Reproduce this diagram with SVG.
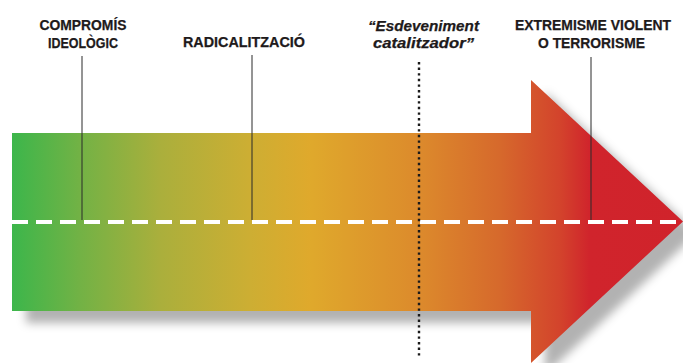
<svg xmlns="http://www.w3.org/2000/svg" width="683" height="363" viewBox="0 0 683 363">
  <defs>
    <linearGradient id="grad" gradientUnits="userSpaceOnUse" x1="12" y1="0" x2="683" y2="0">
      <stop offset="0" stop-color="#3cb64b"/>
      <stop offset="0.101" stop-color="#72b245"/>
      <stop offset="0.220" stop-color="#aaaf3c"/>
      <stop offset="0.355" stop-color="#cdae33"/>
      <stop offset="0.444" stop-color="#dfa92c"/>
      <stop offset="0.608" stop-color="#dc8a2c"/>
      <stop offset="0.727" stop-color="#d6692c"/>
      <stop offset="0.817" stop-color="#d3432c"/>
      <stop offset="0.861" stop-color="#d0242c"/>
      <stop offset="1" stop-color="#d0232b"/>
    </linearGradient>
    <filter id="shadow" x="-10%" y="-20%" width="130%" height="150%">
      <feGaussianBlur stdDeviation="5"/>
    </filter>
  </defs>
  <style>
    .lbl { font-family: "Liberation Sans", Arial, sans-serif; font-weight: bold; font-size: 14.5px; fill: #1e1a1b; text-anchor: middle; stroke: #1e1a1b; stroke-width: 0.25; }
    .it { font-style: italic; }
    .lead { stroke: #2b2b2b; stroke-width: 1; fill: none; }
  </style>
  <rect width="683" height="363" fill="#ffffff"/>
  <g id="arrow">
    <path d="M12,133 H531 V80 L683,221.5 L531,363 V311 H12 Z" transform="translate(14,12)" fill="#000" fill-opacity="0.3" filter="url(#shadow)"/>
    <path d="M12,133 H531 V80 L683,221.5 L531,363 V311 H12 Z" fill="url(#grad)"/>
    <line x1="12" y1="222" x2="683" y2="222" stroke="#ffffff" stroke-width="4" stroke-dasharray="16 8"/>
  </g>
  <g id="connectors">
    <line class="lead" x1="82" y1="56" x2="82" y2="220"/>
    <line class="lead" x1="252" y1="55" x2="252" y2="220"/>
    <line class="lead" x1="591" y1="57" x2="591" y2="220"/>
    <line x1="419" y1="62" x2="419" y2="358" stroke="#1a1a1a" stroke-width="2.4" stroke-dasharray="2.4 3.2"/>
  </g>
  <g id="node-compromis">
    <text class="lbl" x="83" y="30" textLength="87" lengthAdjust="spacingAndGlyphs">COMPROMÍS</text>
    <text class="lbl" x="83" y="48" textLength="70" lengthAdjust="spacingAndGlyphs">IDEOLÒGIC</text>
  </g>
  <g id="node-radicalitzacio">
    <text class="lbl" x="244" y="47" textLength="122" lengthAdjust="spacingAndGlyphs">RADICALITZACIÓ</text>
  </g>
  <g id="node-esdeveniment">
    <text class="lbl it" x="423.5" y="31" textLength="111" lengthAdjust="spacingAndGlyphs">“Esdeveniment</text>
    <text class="lbl it" x="423.5" y="48" textLength="101" lengthAdjust="spacingAndGlyphs">catalitzador”</text>
  </g>
  <g id="node-extremisme">
    <text class="lbl" x="593" y="30" textLength="156" lengthAdjust="spacingAndGlyphs">EXTREMISME VIOLENT</text>
    <text class="lbl" x="591.5" y="48" textLength="107" lengthAdjust="spacingAndGlyphs">O TERRORISME</text>
  </g>
</svg>
